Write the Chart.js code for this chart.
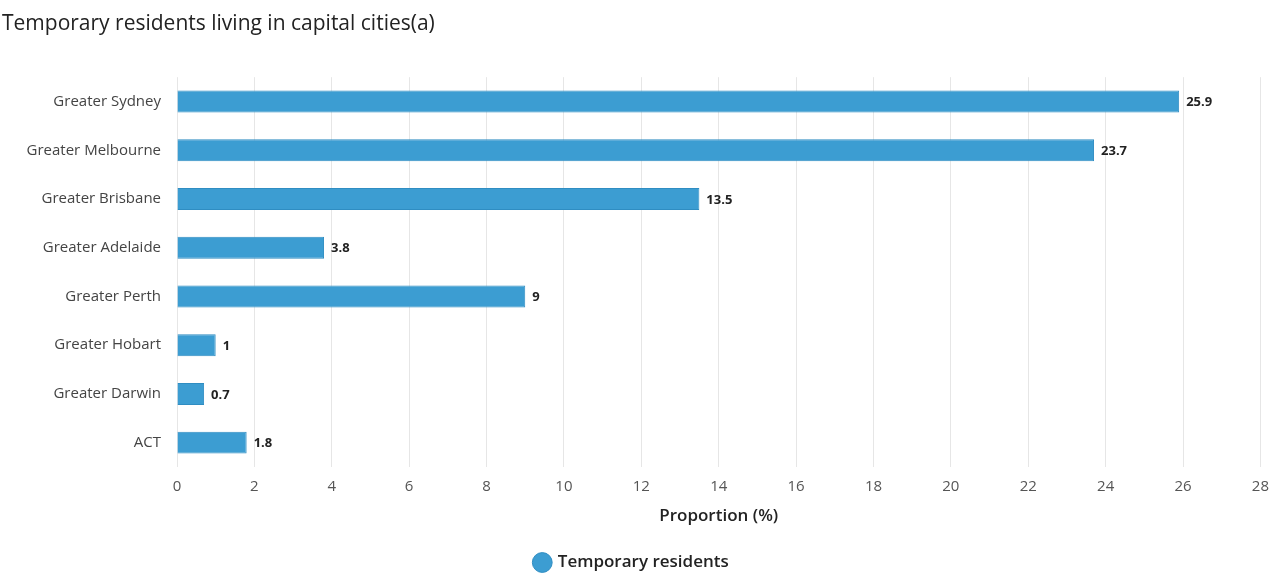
<!DOCTYPE html>
<html>
<head>
<meta charset="utf-8">
<script src="https://cdn.jsdelivr.net/npm/chart.js@4"></script>
<style>
  body { margin: 0; background: #fff; }
  #wrap { width: 1280px; height: 576px; }
</style>
</head>
<body>
<div id="wrap"><canvas id="chart" width="1280" height="576"></canvas></div>
<script>
// datos
const ciudades = ['Greater Sydney', 'Greater Melbourne', 'Greater Brisbane', 'Greater Adelaide', 'Greater Perth', 'Greater Hobart', 'Greater Darwin', 'ACT'];
const residentesTemporales = [25.9, 23.7, 13.5, 3.8, 9, 1, 0.7, 1.8];
const nombreSerie = 'Temporary residents';

// etiqueta con el valor al final de cada barra
const etiquetasValor = {
    id: 'etiquetasValor',
    afterDatasetsDraw(chart) {
        const ctx = chart.ctx;
        const meta = chart.getDatasetMeta(0);
        ctx.save();
        ctx.font = 'bold 13px "Open Sans"';
        ctx.fillStyle = '#222';
        ctx.textAlign = 'left';
        ctx.textBaseline = 'middle';
        meta.data.forEach((barra, i) => {
            ctx.fillText(String(residentesTemporales[i]), barra.x + 7, barra.y + 1);
        });
        ctx.restore();
    }
};

const ctx = document.getElementById('chart').getContext('2d');
new Chart(ctx, {
    type: 'bar',
    data: {
        labels: ciudades,
        datasets: [{
            label: nombreSerie,
            data: residentesTemporales,
            backgroundColor: '#3c9dd2',
            borderColor: '#2f8dc2',
            borderWidth: 1,
            categoryPercentage: 1,
            barPercentage: 0.45
        }]
    },
    options: {
        indexAxis: 'y',
        responsive: false,
        animation: false,
        layout: { padding: { left: 2, right: 18, top: 8, bottom: -5 } },
        scales: {
            x: {
                min: 0,
                max: 28,
                afterFit(scale) { scale.height = 84; },
                ticks: { stepSize: 2, color: '#555', font: { family: 'Open Sans', size: 15 }, padding: 11 },
                grid: { color: '#e6e6e6', drawTicks: false },
                border: { display: false },
                title: { display: true, text: 'Proportion (%)', color: '#222', font: { family: 'Open Sans', size: 17, weight: '600' }, padding: { top: 9, bottom: 25 } }
            },
            y: {
                afterFit(scale) { scale.width = 175; },
                ticks: { color: '#444', font: { family: 'Open Sans', size: 15 }, padding: 8 },
                grid: { display: false },
                border: { display: false }
            }
        },
        plugins: {
            title: {
                display: true,
                text: 'Temporary residents living in capital cities(a)',
                align: 'start',
                color: '#222',
                font: { family: 'Open Sans', size: 21, weight: 'normal' },
                padding: { top: 3, bottom: 41 }
            },
            legend: {
                position: 'bottom',
                labels: {
                    usePointStyle: true,
                    pointStyle: 'circle',
                    boxWidth: 14,
                    boxHeight: 14,
                    color: '#222',
                    font: { family: 'Open Sans', size: 17, weight: '600' },
                    padding: 3
                }
            },
            tooltip: { enabled: false }
        }
    },
    plugins: [etiquetasValor]
});
</script>
</body>
</html>
